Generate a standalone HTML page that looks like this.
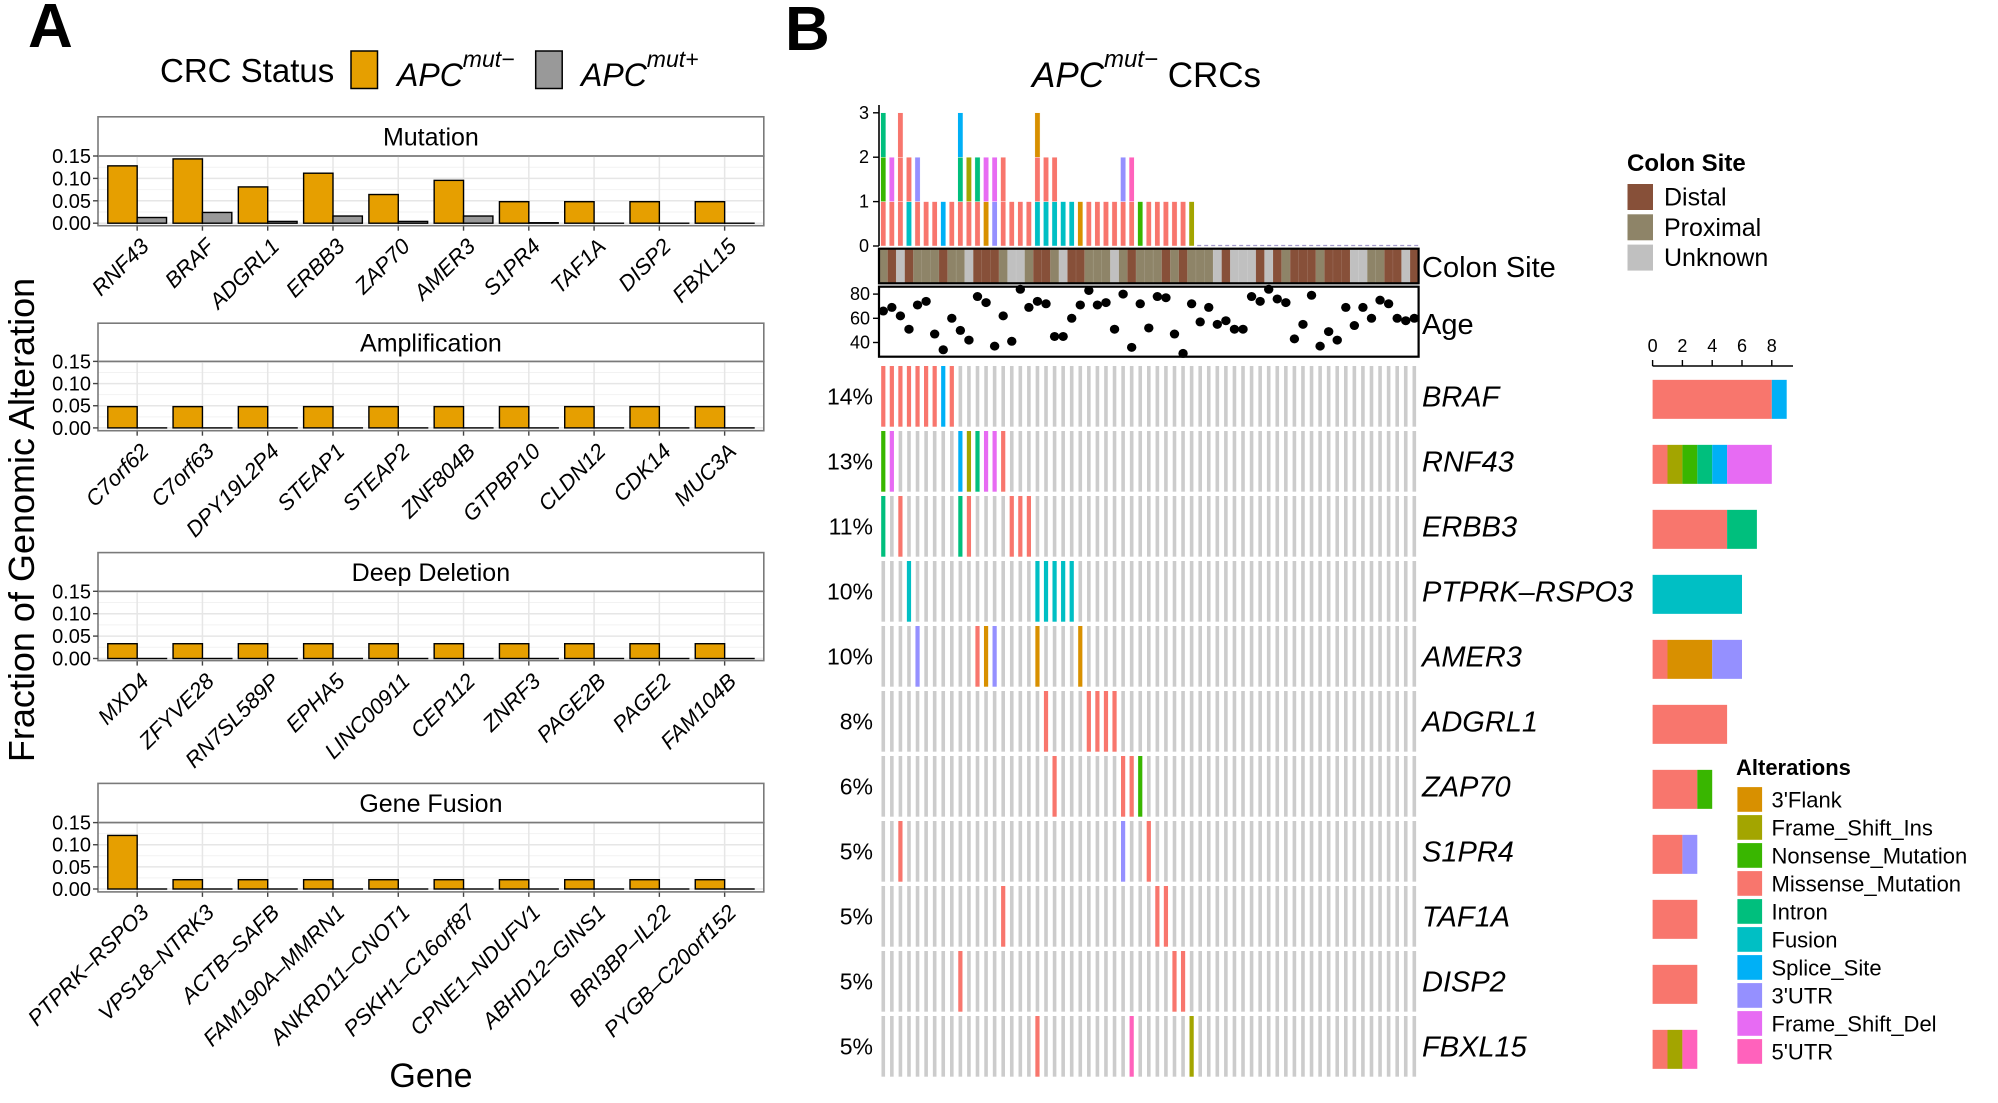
<!DOCTYPE html>
<html><head><meta charset="utf-8"><style>
html,body{margin:0;padding:0;background:#fff;}
svg{display:block;font-family:"Liberation Sans",Arial,sans-serif;}
</style></head><body>
<svg id="fig" width="1998" height="1103" viewBox="0 0 1998 1103" xmlns="http://www.w3.org/2000/svg">
<text x="28" y="47" font-size="62" font-weight="bold">A</text>
<text x="785" y="50" font-size="62" font-weight="bold">B</text>
<g>
<text x="160" y="82" font-size="33">CRC Status</text>
<rect x="351" y="51" width="26.5" height="37.5" fill="#E69F00" stroke="#000" stroke-width="1.5"/>
<text x="397" y="86" font-size="32" font-style="italic">APC<tspan dy="-19" font-size="23">mut−</tspan></text>
<rect x="535.7" y="51" width="26.5" height="37.5" fill="#999999" stroke="#000" stroke-width="1.5"/>
<text x="581" y="86" font-size="32" font-style="italic">APC<tspan dy="-19" font-size="23">mut+</tspan></text>
</g>
<text transform="translate(34,520) rotate(-90)" text-anchor="middle" font-size="36">Fraction of Genomic Alteration</text>
<text x="431" y="1087" text-anchor="middle" font-size="34">Gene</text>
<g id="panelA"></g>
<text x="1032" y="87" font-size="35" font-style="italic">APC<tspan dy="-20" font-size="24">mut−</tspan><tspan dy="20" font-style="normal"> CRCs</tspan></text>
<g id="panelB"></g>
</svg>
<script>
// ---------- Panel A data ----------
const facetNames = ["Mutation","Amplification","Deep Deletion","Gene Fusion"];
const mutGenes = ["RNF43","BRAF","ADGRL1","ERBB3","ZAP70","AMER3","S1PR4","TAF1A","DISP2","FBXL15"];
const mutNeg = [0.128,0.1435,0.081,0.1116,0.064,0.0956,0.048,0.048,0.048,0.048];
const mutPos = [0.0127,0.024,0.004,0.016,0.004,0.016,0.001,0,0,0];
const ampGenes = ["C7orf62","C7orf63","DPY19L2P4","STEAP1","STEAP2","ZNF804B","GTPBP10","CLDN12","CDK14","MUC3A"];
const ampNeg = [0.048,0.048,0.048,0.048,0.048,0.048,0.048,0.048,0.048,0.048];
const ampPos = [0,0,0,0,0,0,0,0,0,0];
const delGenes = ["MXD4","ZFYVE28","RN7SL589P","EPHA5","LINC00911","CEP112","ZNRF3","PAGE2B","PAGE2","FAM104B"];
const delNeg = [0.033,0.033,0.033,0.033,0.033,0.033,0.033,0.033,0.033,0.033];
const delPos = [0,0,0,0,0,0,0,0,0,0];
const fusGenes = ["PTPRK–RSPO3","VPS18–NTRK3","ACTB–SAFB","FAM190A–MMRN1","ANKRD11–CNOT1","PSKH1–C16orf87","CPNE1–NDUFV1","ABHD12–GINS1","BRI3BP–IL22","PYGB–C20orf152"];
const fusNeg = [0.121,0.021,0.021,0.021,0.021,0.021,0.021,0.021,0.021,0.021];
const fusPos = [0,0,0,0,0,0,0,0,0,0];
const yTicksA = [0,0.05,0.10,0.15];
const yTickLabelsA = ["0.00","0.05","0.10","0.15"];

// ---------- Panel B data ----------
const samplesN = 63;
const colonSite = "PDUDPPPDPPUDDDPUUPDDPUDDPPPUPDPPPDPDPPPUDUUUDUDPDDDPDDDUUPPDDUD".split("");
const ages = [66,69,62,51,71,74,47,34,60,50,42,78,73,37,62,41,84,69,74,72,45,45,60,71,83,71,73,51,80,36,72,52,78,77,47,31,72,57,69,55,58,51,51,78,74,84,76,73,43,55,79,37,49,42,69,54,69,60,75,72,60,58,60];
const oncoGenes = ["BRAF","RNF43","ERBB3","PTPRK–RSPO3","AMER3","ADGRL1","ZAP70","S1PR4","TAF1A","DISP2","FBXL15"];
const oncoPct = ["14%","13%","11%","10%","10%","8%","6%","5%","5%","5%","5%"];
const altBRAF = [[0,"Missense_Mutation"],[1,"Missense_Mutation"],[2,"Missense_Mutation"],[3,"Missense_Mutation"],[4,"Missense_Mutation"],[5,"Missense_Mutation"],[6,"Missense_Mutation"],[7,"Splice_Site"],[8,"Missense_Mutation"]];
const altRNF43 = [[0,"Nonsense_Mutation"],[1,"Frame_Shift_Del"],[9,"Splice_Site"],[10,"Frame_Shift_Ins"],[11,"Intron"],[12,"Frame_Shift_Del"],[13,"Frame_Shift_Del"],[14,"Missense_Mutation"]];
const altERBB3 = [[0,"Intron"],[2,"Missense_Mutation"],[9,"Intron"],[10,"Missense_Mutation"],[15,"Missense_Mutation"],[16,"Missense_Mutation"],[17,"Missense_Mutation"]];
const altPTPRK = [[3,"Fusion"],[18,"Fusion"],[19,"Fusion"],[20,"Fusion"],[21,"Fusion"],[22,"Fusion"]];
const altAMER3 = [[4,"3'UTR"],[11,"Missense_Mutation"],[12,"3'Flank"],[13,"3'UTR"],[18,"3'Flank"],[23,"3'Flank"]];
const altADGRL1 = [[19,"Missense_Mutation"],[24,"Missense_Mutation"],[25,"Missense_Mutation"],[26,"Missense_Mutation"],[27,"Missense_Mutation"]];
const altZAP70 = [[20,"Missense_Mutation"],[28,"Missense_Mutation"],[29,"Missense_Mutation"],[30,"Nonsense_Mutation"]];
const altS1PR4 = [[2,"Missense_Mutation"],[28,"3'UTR"],[31,"Missense_Mutation"]];
const altTAF1A = [[14,"Missense_Mutation"],[32,"Missense_Mutation"],[33,"Missense_Mutation"]];
const altDISP2 = [[9,"Missense_Mutation"],[34,"Missense_Mutation"],[35,"Missense_Mutation"]];
const altFBXL15 = [[18,"Missense_Mutation"],[29,"5'UTR"],[36,"Frame_Shift_Ins"]];
const altTypes = ["3'Flank","Frame_Shift_Ins","Nonsense_Mutation","Missense_Mutation","Intron","Fusion","Splice_Site","3'UTR","Frame_Shift_Del","5'UTR"];
const altColors = ["#D89000","#A3A500","#39B600","#F8766D","#00BF7D","#00BFC4","#00B0F6","#9590FF","#E76BF3","#FF62BC"];
const stackOrder = ["Fusion","Missense_Mutation","3'Flank","3'UTR","Nonsense_Mutation","Frame_Shift_Ins","Intron","Splice_Site","Frame_Shift_Del","5'UTR"];
const barOrder = ["Missense_Mutation","3'Flank","Frame_Shift_Ins","Nonsense_Mutation","Intron","Fusion","Splice_Site","3'UTR","Frame_Shift_Del","5'UTR"];
const siteNames = ["Distal","Proximal","Unknown"];
const siteColors = {D:"#875039",P:"#8E8468",U:"#C0C0C0"};
const topTicks = [0,1,2,3];
const ageTicks = [40,60,80];
const rightTicks = [0,2,4,6,8];

const NS="http://www.w3.org/2000/svg";
function mk(tag, attrs, parent, text){
  const e=document.createElementNS(NS,tag);
  for(const k in attrs) e.setAttribute(k,attrs[k]);
  if(text!==undefined) e.textContent=text;
  parent.appendChild(e); return e;
}

// ---------- Panel A ----------
const pA=document.getElementById("panelA");
const facetGenes=[mutGenes,ampGenes,delGenes,fusGenes];
const facetNeg=[mutNeg,ampNeg,delNeg,fusNeg];
const facetPos=[mutPos,ampPos,delPos,fusPos];
const facetLayout=[{s:116.8,t:156,z:223.2,b:225.7},{s:323.2,t:361.4,z:427.9,b:430.7},{s:552.6,t:591.3,z:658.5,b:660.6},{s:783.4,t:822.6,z:889,b:891.9}];
const pL=98, pR=763.8, step=(pR-pL)/10.2;
function xCat(i){return pL+step*(0.6+i);}
facetNames.forEach((fname,f)=>{
  const L=facetLayout[f];
  const yS=v=>L.z-v*(L.z-L.t)/0.15;
  const g=mk("g",{},pA);
  
  
  const strip=mk("rect",{x:pL,y:L.s,width:pR-pL,height:L.t-L.s,fill:"#fff",stroke:"#7a7a7a","stroke-width":1.6},g);
  
  
  const st=mk("text",{x:(pL+pR)/2,y:(L.s+L.t)/2+9,"text-anchor":"middle","font-size":25},g,fname);
  
  
  [0.025,0.075,0.125].forEach(v=>{mk("line",{x1:pL,x2:pR,y1:yS(v),y2:yS(v),stroke:"#F2F2F2","stroke-width":1},g);});
  yTicksA.forEach(v=>{mk("line",{x1:pL,x2:pR,y1:yS(v),y2:yS(v),stroke:"#E6E6E6","stroke-width":1.5},g);});
  facetGenes[f].forEach((gn,i)=>{mk("line",{x1:xCat(i),x2:xCat(i),y1:L.t,y2:L.b,stroke:"#E6E6E6","stroke-width":1.5},g);});
  const bw=step*0.45;
  facetGenes[f].forEach((gn,i)=>{
    const vn=facetNeg[f][i], vp=facetPos[f][i];
    const r1=mk("rect",{x:xCat(i)-bw,y:yS(vn),width:bw,height:Math.max(0.01,L.z-yS(vn)),fill:"#E69F00",stroke:"#000","stroke-width":1.4},g);
    
    
    const r2=mk("rect",{x:xCat(i),y:yS(vp),width:bw,height:Math.max(0.01,L.z-yS(vp)),fill:"#999999",stroke:"#000","stroke-width":1.4},g);
    
    
    mk("line",{x1:xCat(i),x2:xCat(i),y1:L.b,y2:L.b+5,stroke:"#444","stroke-width":1.4},g);
    const tl=mk("text",{transform:`translate(${xCat(i)+13},${L.b+22}) rotate(-45)`,"text-anchor":"end","font-size":22,"font-style":"italic"},g,gn);
    
    
  });
  const pb=mk("rect",{x:pL,y:L.t,width:pR-pL,height:L.b-L.t,fill:"none",stroke:"#7a7a7a","stroke-width":1.6},g);
  
  
  yTicksA.forEach((v,k)=>{
    mk("line",{x1:pL-5,x2:pL,y1:yS(v),y2:yS(v),stroke:"#444","stroke-width":1.4},g);
    const yt=mk("text",{x:pL-7,y:yS(v)+7,"text-anchor":"end","font-size":20},g,yTickLabelsA[k]);
    
    
  });
});

// ---------- Panel B ----------
const pB=document.getElementById("panelB");
const colColor={}; altTypes.forEach((t,i)=>colColor[t]=altColors[i]);
const geneAlts=[altBRAF,altRNF43,altERBB3,altPTPRK,altAMER3,altADGRL1,altZAP70,altS1PR4,altTAF1A,altDISP2,altFBXL15];
const bL=879, bR=1418.6, pitch=(bR-bL)/samplesN;
const xS=i=>bL+pitch*(i+0.5);
const y0=246, unit=44.4;
const ySt=v=>y0-v*unit;
const perSample=[]; for(let i=0;i<samplesN;i++) perSample.push([]);
geneAlts.forEach(arr=>arr.forEach(([s,t])=>perSample[s].push(t)));
const topG=mk("g",{},pB);


let lastMut=-1;
perSample.forEach((types,i)=>{
  const sorted=types.slice().sort((a,b)=>stackOrder.indexOf(a)-stackOrder.indexOf(b));
  if(sorted.length) lastMut=i;
  sorted.forEach((t,k)=>{
    const r=mk("rect",{x:xS(i)-2.6,y:ySt(k+1),width:5.2,height:unit,fill:colColor[t],stroke:"#fff","stroke-width":0.4},topG);
    
    
  });
});
mk("line",{x1:xS(lastMut+1)-3,x2:bR,y1:y0-0.5,y2:y0-0.5,stroke:"#a59ccc","stroke-width":1.3,"stroke-dasharray":"4,3"},topG);
mk("line",{x1:bL,x2:bL,y1:105,y2:y0,stroke:"#000","stroke-width":1.6},topG);
topTicks.forEach(v=>{
  mk("line",{x1:bL-6,x2:bL,y1:ySt(v),y2:ySt(v),stroke:"#000","stroke-width":1.4},topG);
  const t=mk("text",{x:bL-10,y:ySt(v)+6,"text-anchor":"end","font-size":18},topG,String(v));
  
  
});
const csG=mk("g",{},pB);


colonSite.forEach((c,i)=>{
  const r=mk("rect",{x:bL+pitch*i,y:248.7,width:pitch+0.3,height:34.6,fill:siteColors[c],stroke:"rgba(255,255,255,0.25)","stroke-width":0.4},csG);
  
  
});
mk("rect",{x:bL,y:248.7,width:bR-bL,height:34.6,fill:"none",stroke:"#000","stroke-width":2.2},csG);
const csl=mk("text",{x:1422,y:277,"font-size":29},pB,"Colon Site");


const agG=mk("g",{},pB);


const yAge=a=>318.3-(a-60)*1.21;
mk("rect",{x:bL,y:286.7,width:bR-bL,height:70,fill:"#fff",stroke:"#000","stroke-width":2.2},agG);
ages.forEach((a,i)=>{
  const c=mk("ellipse",{cx:xS(i),cy:yAge(a),rx:4.7,ry:4.5,fill:"#000"},agG);
  
  
});
ageTicks.forEach(v=>{
  mk("line",{x1:bL-6,x2:bL,y1:yAge(v),y2:yAge(v),stroke:"#000","stroke-width":1.4},agG);
  const t=mk("text",{x:bL-9,y:yAge(v)+6,"text-anchor":"end","font-size":18},agG,String(v));
  
  
});
const agl=mk("text",{x:1422,y:334,"font-size":29},pB,"Age");


const rowTop=366, rowPitch=65, rowH=60.7;
const opG=mk("g",{},pB);


const rx0=1652.6, rUnit=14.9;
const xR=v=>rx0+v*rUnit;
const rbG=mk("g",{},pB);


mk("line",{x1:rx0,x2:1793,y1:366,y2:366,stroke:"#000","stroke-width":1.6},rbG);
rightTicks.forEach(v=>{
  mk("line",{x1:xR(v),x2:xR(v),y1:360,y2:366,stroke:"#000","stroke-width":1.4},rbG);
  const t=mk("text",{x:xR(v),y:352,"text-anchor":"middle","font-size":18},rbG,String(v));
  
  
});
oncoGenes.forEach((gn,r)=>{
  const top=rowTop+r*rowPitch;
  const alts={}; geneAlts[r].forEach(([s,t])=>alts[s]=t);
  for(let i=0;i<samplesN;i++){
    const t=alts[i];
    const w=t?4.2:3.6;
    const c=mk("rect",{x:xS(i)-w/2,y:top,width:w,height:rowH,fill:t?colColor[t]:"#CCCCCC"},opG);
    
    
  }
  const pl=mk("text",{x:873,y:top+rowH/2+8,"text-anchor":"end","font-size":23},pB,oncoPct[r]);
  
  
  const gl=mk("text",{x:1422,y:top+rowH/2+10,"font-size":29,"font-style":"italic"},pB,gn);
  
  
  const counts={}; geneAlts[r].forEach(([s,t])=>counts[t]=(counts[t]||0)+1);
  let acc=0; const cy=top+rowH/2+3;
  barOrder.forEach(t=>{
    if(!counts[t]) return;
    const b=mk("rect",{x:xR(acc),y:cy-19.5,width:counts[t]*rUnit,height:39,fill:colColor[t]},rbG);
    
    
    acc+=counts[t];
  });
});
const lg1=mk("g",{},pB);


mk("text",{x:1627,y:171,"font-size":24,"font-weight":"bold"},lg1,"Colon Site");
siteNames.forEach((n,k)=>{
  const y=183.5+k*30.3;
  const key=["D","P","U"][k];
  const r=mk("rect",{x:1627,y:y,width:26.5,height:27,fill:siteColors[key],stroke:"#fff","stroke-width":1},lg1);
  
  
  const t=mk("text",{x:1664,y:y+22,"font-size":25},lg1,n);
  
  
});
const lg2=mk("g",{},pB);


mk("text",{x:1736,y:775,"font-size":22,"font-weight":"bold"},lg2,"Alterations");
altTypes.forEach((n,k)=>{
  const y=786.7+k*28;
  const r=mk("rect",{x:1737,y:y,width:25.5,height:25.5,fill:altColors[k],stroke:"#fff","stroke-width":0.8},lg2);
  
  
  const t=mk("text",{x:1771.5,y:y+21,"font-size":22},lg2,n);
  
  
});
</script>
</body></html>
